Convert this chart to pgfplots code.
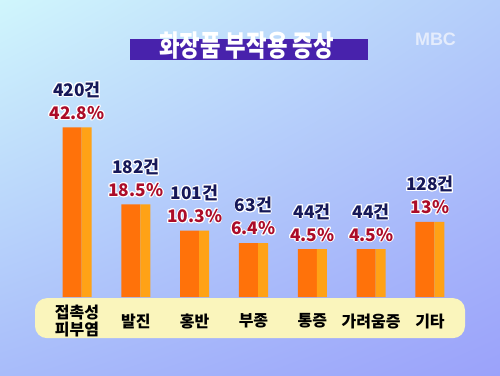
\documentclass[border=0pt]{standalone}
\usepackage{pgfplots}
\pgfplotsset{compat=1.18}
\usepackage{pgfplotstable}
\usetikzlibrary{shadings}
\usepackage{fontspec}
\usepackage{contour}
\setmainfont{Noto Sans CJK KR}
\newfontfamily\logofont{Liberation Sans}
\contourlength{0.7pt}
\definecolor{bgTL}{RGB}{208,246,252}
\definecolor{bgTR}{RGB}{180,205,250}
\definecolor{bgBL}{RGB}{168,188,250}
\definecolor{bgBR}{RGB}{155,162,250}
\definecolor{titlebox}{RGB}{72,34,172}
\definecolor{cream}{RGB}{250,245,188}
\definecolor{frontc}{RGB}{255,114,10}
\definecolor{sidec}{RGB}{255,162,22}
\definecolor{cntcol}{RGB}{22,24,88}
\definecolor{pctcol}{RGB}{172,12,40}
\definecolor{logocol}{RGB}{228,236,252}

\pgfplotstableread{
x y cnt pct
0 420 420 42.8
1 182 182 18.5
2 101 101 10.3
3 63 63 6.4
4 44 44 4.5
5 44 44 4.5
6 128 128 13
}\data

\begin{document}
\begin{tikzpicture}[x=0.75pt,y=0.75pt]
% background (500 x 375 px)
\shade[upper left=bgTL, upper right=bgTR, lower left=bgBL, lower right=bgBR]
  (0,0) rectangle (500,375);
% title
\fill[titlebox] (130,375-60) rectangle (368,375-39);
\node[text=white, inner sep=0pt, font=\bfseries\fontsize{22}{24}\selectfont] at (246.5,375-45)
  {\scalebox{0.76}[1]{화장품 부작용 증상}};
% logo
\node[text=logocol, font=\logofont\bfseries\fontsize{13.5}{14}\selectfont] at (435.5,375-39.5) {MBC};
% cream base band
\fill[cream, rounded corners=9pt] (35,375-338) rectangle (465,375-298);
\begin{axis}[
  at={(0,0)}, anchor=south west,
  scale only axis, width=375pt, height=281.25pt,
  xmin=-1.309, xmax=7.190,
  y coord trafo/.code={\pgfmathparse{#1+104}},
  y coord inv trafo/.code={\pgfmathparse{#1-104}},
  ymin=-344.7, ymax=812.7,
  axis line style={draw=none},
  major tick length=0pt,
  ytick=\empty,
  xtick={0,1,2,3,4,5,6},
  xticklabels={{접촉성\\피부염},발진,홍반,부종,통증,가려움증,기타},
  xticklabel style={anchor=center, yshift=40.5pt, align=center,
    font=\bfseries\fontsize{12}{12.5}\selectfont, text=black},
  clip=false,
  /pgf/number format/assume math mode=true,
]
\addplot[ybar, bar width=19*0.75pt, bar shift=-5*0.75pt, fill=frontc, draw=none]
  table[x=x,y=y] {\data};
\addplot[ybar, bar width=10*0.75pt, bar shift=9.5*0.75pt, fill=sidec, draw=none]
  table[x=x,y=y] {\data};
\addplot[draw=none, mark=none,
  point meta=explicit,
  visualization depends on={\thisrow{pct} \as \pct},
  nodes near coords={{\color{cntcol}\contour{white}{\pgfmathprintnumber[fixed,precision=0]{\pgfplotspointmeta}건}}\\{\color{pctcol}\contour{white}{\pgfmathprintnumber[fixed,precision=1]{\pct}\%}}},
  every node near coord/.append style={anchor=south, inner sep=0pt, yshift=5pt,
    align=center, font=\bfseries\fontsize{13}{17.25}\selectfont},
] table[x=x,y=y,meta=cnt] {\data};
\end{axis}
\end{tikzpicture}
\end{document}
